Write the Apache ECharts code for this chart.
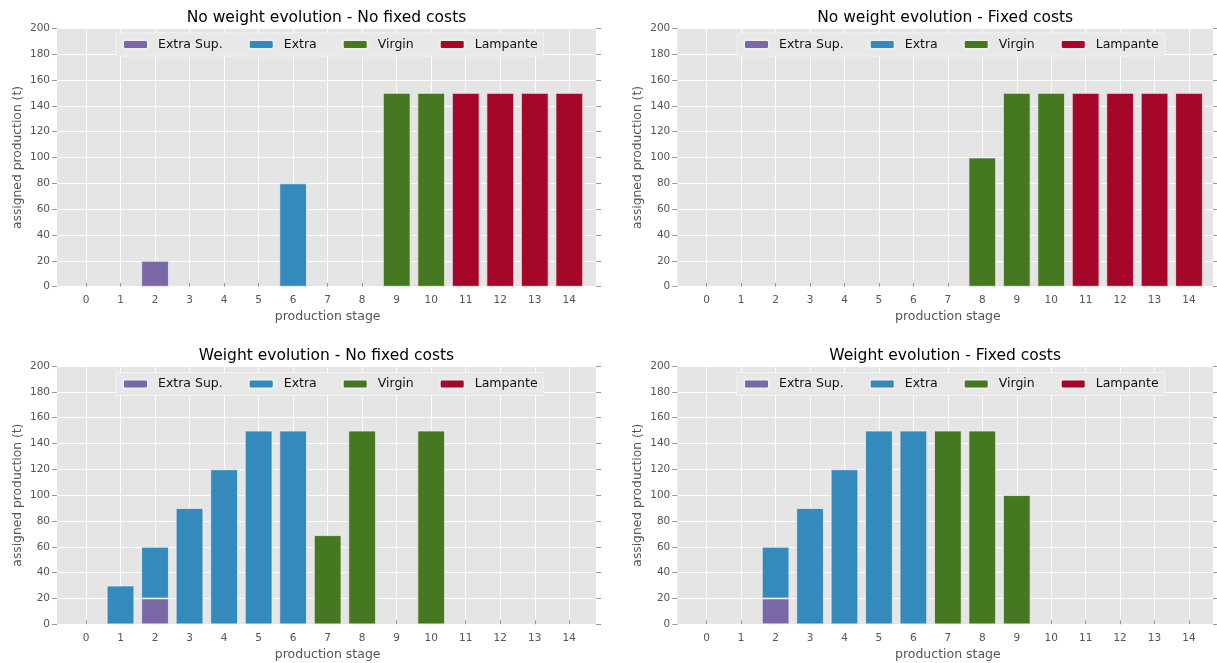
<!DOCTYPE html>
<html>
<head>
<meta charset="utf-8">
<title>assigned production</title>
<script src="https://cdn.jsdelivr.net/npm/echarts@6/dist/echarts.min.js"></script>
<style>
  html, body { margin: 0; padding: 0; background: #fff; }
  #chart { width: 1217px; height: 663px; }
</style>
</head>
<body>
<div id="chart"></div>
<script>
  // x categories: production stages
  const stages = ['0', '1', '2', '3', '4', '5', '6', '7', '8', '9', '10', '11', '12', '13', '14']
  const grades = ['Extra Sup.', 'Extra', 'Virgin', 'Lampante']
  const gradeColors = ['#7A68A6', '#348ABD', '#467821', '#A60628']

  // No weight evolution - No fixed costs
  const nwNfExtraSup = [null, null, 20, null, null, null, null, null, null, null, null, null, null, null, null]
  const nwNfExtra = [null, null, null, null, null, null, 80, null, null, null, null, null, null, null, null]
  const nwNfVirgin = [null, null, null, null, null, null, null, null, null, 150, 150, null, null, null, null]
  const nwNfLampante = [null, null, null, null, null, null, null, null, null, null, null, 150, 150, 150, 150]

  // No weight evolution - Fixed costs
  const nwFcExtraSup = [null, null, null, null, null, null, null, null, null, null, null, null, null, null, null]
  const nwFcExtra = [null, null, null, null, null, null, null, null, null, null, null, null, null, null, null]
  const nwFcVirgin = [null, null, null, null, null, null, null, null, 100, 150, 150, null, null, null, null]
  const nwFcLampante = [null, null, null, null, null, null, null, null, null, null, null, 150, 150, 150, 150]

  // Weight evolution - No fixed costs
  const wNfExtraSup = [null, null, 20, null, null, null, null, null, null, null, null, null, null, null, null]
  const wNfExtra = [null, 30, 40, 90, 120, 150, 150, null, null, null, null, null, null, null, null]
  const wNfVirgin = [null, null, null, null, null, null, null, 69, 150, null, 150, null, null, null, null]
  const wNfLampante = [null, null, null, null, null, null, null, null, null, null, null, null, null, null, null]

  // Weight evolution - Fixed costs
  const wFcExtraSup = [null, null, 20, null, null, null, null, null, null, null, null, null, null, null, null]
  const wFcExtra = [null, null, 40, 90, 120, 150, 150, null, null, null, null, null, null, null, null]
  const wFcVirgin = [null, null, null, null, null, null, null, 150, 150, 100, null, null, null, null, null]
  const wFcLampante = [null, null, null, null, null, null, null, null, null, null, null, null, null, null, null]

  const font = 'DejaVu Sans'

  const panels = [
    { title: 'No weight evolution - No fixed costs', data: [nwNfExtraSup, nwNfExtra, nwNfVirgin, nwNfLampante],
      L: 57, T: 28.3, W: 539, H: 258.4, x0: 86, x14: 569.3, legLeft: 116, legTop: 33 },
    { title: 'No weight evolution - Fixed costs', data: [nwFcExtraSup, nwFcExtra, nwFcVirgin, nwFcLampante],
      L: 677.3, T: 28.3, W: 535.7, H: 258.4, x0: 706.7, x14: 1189, legLeft: 737, legTop: 33 },
    { title: 'Weight evolution - No fixed costs', data: [wNfExtraSup, wNfExtra, wNfVirgin, wNfLampante],
      L: 57, T: 366, W: 539, H: 258.3, x0: 86, x14: 569.3, legLeft: 116, legTop: 372.5 },
    { title: 'Weight evolution - Fixed costs', data: [wFcExtraSup, wFcExtra, wFcVirgin, wFcLampante],
      L: 677.3, T: 366, W: 535.7, H: 258.3, x0: 706.7, x14: 1189, legLeft: 737, legTop: 372.5 }
  ]

  const option = {
    animation: false,
    backgroundColor: '#fff',
    grid: [], xAxis: [], yAxis: [], series: [], legend: [], graphic: []
  }

  panels.forEach((p, k) => {
    const band = (p.x14 - p.x0) / 14
    const gBg = option.grid.length
    // plot background (full axes area)
    option.grid.push({ left: p.L, top: p.T, width: p.W, height: p.H, show: true,
      backgroundColor: '#E5E5E5', borderWidth: 0, outerBoundsMode: 'none', containLabel: false })
    // bars on category bands
    option.grid.push({ left: p.x0 - band / 2, top: p.T, width: band * 15, height: p.H,
      outerBoundsMode: 'none', containLabel: false })
    // vertical grid lines / top ticks from 0 to 14
    option.grid.push({ left: p.x0, top: p.T, width: p.x14 - p.x0, height: p.H,
      outerBoundsMode: 'none', containLabel: false })

    const xBg = option.xAxis.length
    option.xAxis.push({ gridIndex: gBg, type: 'value', min: 0, max: 1, show: false })
    option.xAxis.push({
      gridIndex: gBg + 1, type: 'category', data: stages, position: 'bottom',
      axisLine: { show: false }, axisTick: { show: false }, splitLine: { show: false },
      axisLabel: { color: '#555', fontSize: 10.5, fontFamily: font, margin: 8, interval: 0 },
      name: 'production stage', nameLocation: 'middle', nameGap: 24,
      nameTextStyle: { color: '#555', fontSize: 12.5, fontFamily: font }
    })
    option.xAxis.push({
      gridIndex: gBg + 2, type: 'value', position: 'top', min: 0, max: 14, interval: 1,
      axisLine: { show: false }, axisLabel: { show: false },
      axisTick: { show: true, inside: false, length: 4, lineStyle: { color: '#999' } },
      splitLine: { show: true, lineStyle: { color: '#fff', width: 1 } }
    })

    const yBg = option.yAxis.length
    option.yAxis.push({
      gridIndex: gBg, type: 'value', position: 'left', min: 0, max: 200, interval: 20,
      axisLine: { show: false },
      axisTick: { show: true, inside: false, length: 5, lineStyle: { color: '#999' } },
      axisLabel: { color: '#555', fontSize: 10.5, fontFamily: font, margin: 7 },
      splitLine: { show: true, lineStyle: { color: '#fff', width: 1 } },
      name: 'assigned production (t)', nameLocation: 'middle', nameGap: 33,
      nameTextStyle: { color: '#555', fontSize: 12.3, fontFamily: font }
    })
    option.yAxis.push({
      gridIndex: gBg, type: 'value', position: 'right', min: 0, max: 200, interval: 20,
      axisLine: { show: false }, axisLabel: { show: false }, splitLine: { show: false },
      axisTick: { show: true, inside: false, length: 5, lineStyle: { color: '#999' } }
    })
    option.yAxis.push({ gridIndex: gBg + 1, type: 'value', min: 0, max: 200, show: false })
    option.yAxis.push({ gridIndex: gBg + 2, type: 'value', min: 0, max: 200, show: false })

    grades.forEach((g, i) => {
      option.series.push({
        type: 'bar', name: g, stack: 'panel' + k,
        xAxisIndex: xBg + 1, yAxisIndex: yBg + 2,
        barWidth: band * 0.8,
        itemStyle: { color: gradeColors[i], borderColor: '#eeeeee', borderWidth: 0.8 },
        emphasis: { disabled: true },
        data: p.data[i]
      })
    })

    option.legend.push({
      data: grades, left: p.legLeft, top: p.legTop, orient: 'horizontal',
      itemWidth: 25, itemHeight: 9, itemGap: 25, padding: [5, 6],
      backgroundColor: '#e8e8e8', borderColor: '#f3f3f3', borderWidth: 1,
      selectedMode: false,
      textStyle: { color: '#111', fontSize: 12.5, fontFamily: font, padding: [0, 0, 0, 5] }
    })

    option.graphic.push({
      type: 'text', x: p.L + p.W / 2, y: p.T - 10,
      style: { text: p.title, align: 'center', verticalAlign: 'middle',
        fontSize: 15.5, fontFamily: font, fill: '#000' }
    })
  })

  const chart = echarts.init(document.getElementById('chart'), null, { renderer: 'canvas' })
  chart.setOption(option)
</script>
</body>
</html>
